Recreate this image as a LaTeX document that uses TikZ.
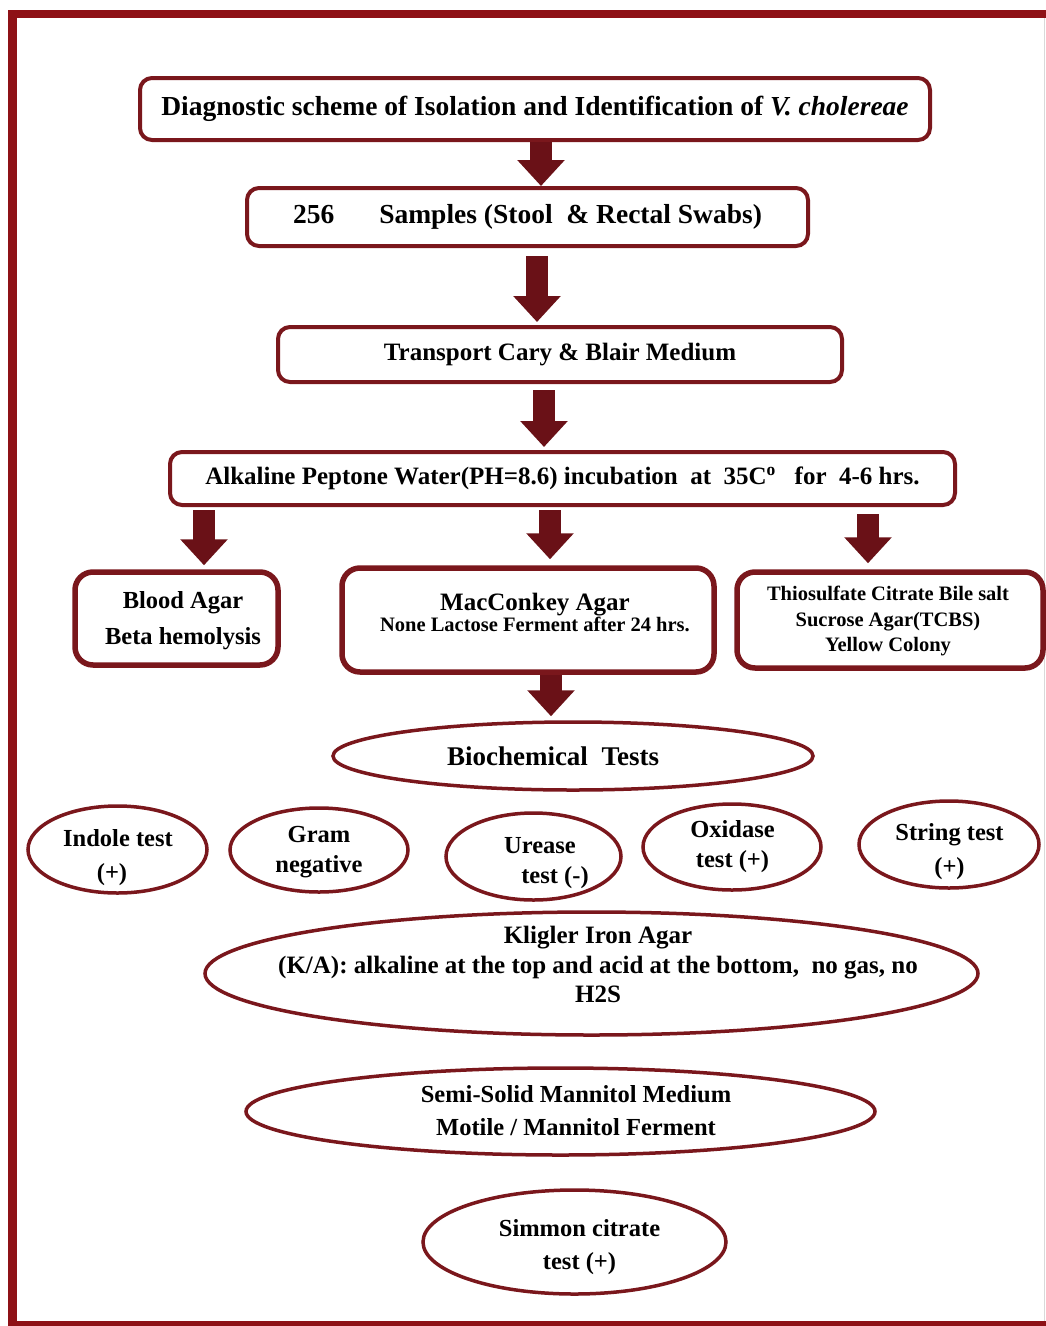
\documentclass[tikz,border=0pt]{standalone}
\usepackage{fontspec}
\setmainfont{Liberation Serif}
\usetikzlibrary{shapes.geometric,arrows.meta}
\definecolor{framered}{HTML}{8E1116}
\definecolor{bord}{HTML}{7A171C}
\definecolor{arr}{HTML}{6A1117}
\newcommand\fsz[2]{\fontsize{#1pt}{#2pt}\selectfont}
\begin{document}
\begin{tikzpicture}[x=1pt,y=-1pt,
  box/.style={draw=bord, line width=4pt, rounded corners=12pt, fill=white, inner sep=0pt, align=center},
  bigbox/.style={box, line width=5.5pt, rounded corners=18pt},
  ebox/.style={draw=bord, line width=3.5pt, ellipse, inner sep=0pt, fill=white},
  txt/.style={align=center, inner sep=0pt},
  barrow/.style={draw=arr, line width=22pt, -{Triangle[width=46pt,length=26pt]}},
]
\useasboundingbox (0,0) rectangle (1046,1326);
% frame
\fill[white] (0,0) rectangle (1046,1326);
\fill[framered] (8,10) rectangle (1046,18);
\fill[framered] (8,10) rectangle (17,1326);
\fill[framered] (8,1321) rectangle (1046,1326);
\draw[black!15, line width=1.5pt] (1044.5,18) -- (1044.5,1321);

% boxes
\node[box, minimum width=790, minimum height=62, font=\bfseries\fsz{27.5}{30}] (title) at (535,109)
  {Diagnostic scheme of Isolation and Identification of \textit{V. cholereae}};
\node[box, minimum width=561, minimum height=58, font=\bfseries\fsz{27.5}{32}] (samp) at (527.5,217)
  {256\hspace{45pt}Samples (Stool\ \ \& Rectal Swabs)};
\node[box, minimum width=564, minimum height=55, font=\bfseries\fsz{25}{30}] (trans) at (560,354.5)
  {Transport Cary \& Blair Medium};
\node[box, minimum width=785, minimum height=53, font=\bfseries\fsz{25}{30}] (apw) at (562.5,478.5)
  {Alkaline Peptone Water(PH=8.6) incubation\ \ at\ \ 35C\textsuperscript{o}\ \ \ for\ \ 4-6 hrs.};

\node[bigbox, minimum width=203, minimum height=93] (blood) at (176.5,618.5) {};
\node[txt, font=\bfseries\fsz{24.5}{36}] (bloodt) at (183,621) {Blood Agar\\Beta hemolysis};
\node[bigbox, minimum width=372, minimum height=104] (mac) at (528,620) {};
\node[txt, font=\bfseries] (mact) at (535,612) {\fsz{25}{27}MacConkey Agar\\\fsz{20.5}{30}None Lactose Ferment after 24 hrs.};
\node[bigbox, minimum width=306, minimum height=96] (tcbs) at (890,620) {};
\node[txt, font=\bfseries\fsz{20.5}{25.5}] (tcbst) at (888,621) {Thiosulfate Citrate Bile salt\\Sucrose Agar(TCBS)\\Yellow Colony};

% ellipses
\node[ebox, minimum width=480, minimum height=68] (bio) at (573,756) {};
\node[txt, font=\bfseries\fsz{27}{30}] (biot) at (553,756) {Biochemical\ \ Tests};

\node[ebox, minimum width=179, minimum height=87] (indole) at (117.5,849.5) {};
\node[txt, font=\bfseries\fsz{24.5}{34}] (indolet) at (118,858) {Indole test\\\hspace*{-12pt}(+)};
\node[ebox, minimum width=178, minimum height=84] (gram) at (319,850) {};
\node[txt, font=\bfseries\fsz{24.5}{30}] (gramt) at (319,852) {Gram\\negative};
\node[ebox, minimum width=175, minimum height=87] (urease) at (533.5,856.5) {};
\node[txt, font=\bfseries\fsz{24.5}{30}] (ureaset) at (547.5,863) {Urease\hspace*{15pt}\\\hspace*{15pt}test (-)};
\node[ebox, minimum width=178, minimum height=86] (oxid) at (732,847) {};
\node[txt, font=\bfseries\fsz{24.5}{30}] (oxidt) at (732.5,847) {Oxidase\\test (+)};
\node[ebox, minimum width=180, minimum height=87] (string) at (949,844.5) {};
\node[txt, font=\bfseries\fsz{24.5}{34}] (stringt) at (949.5,852) {String test\\(+)};

\node[ebox, minimum width=773, minimum height=123] (kia) at (591.5,973.5) {};
\node[txt, font=\bfseries\fsz{25}{29.5}] (kiat) at (598,964.5) {Kligler Iron Agar\\(K/A): alkaline at the top and acid at the bottom,\ \ no gas, no\\H2S};
\node[ebox, minimum width=629, minimum height=87] (ssm) at (560.5,1111.5) {};
\node[txt, font=\bfseries\fsz{24.5}{33}] (ssmt) at (576,1110.5) {Semi-Solid Mannitol Medium\\Motile / Mannitol Ferment};
\node[ebox, minimum width=303, minimum height=104] (sim) at (574.5,1242) {};
\node[txt, font=\bfseries\fsz{24.5}{33}] (simt) at (579.5,1247.5) {Simmon citrate\\test (+)};

% arrows
\draw[barrow] (title.south -| 541,0) -- (samp.north -| 541,0);
\draw[barrow, shorten <=8pt, shorten >=3pt] (samp.south -| 537,0) -- (trans.north -| 537,0);
\draw[barrow, shorten <=6pt, shorten >=3pt] (trans.south -| 544,0) -- (apw.north -| 544,0);
\draw[barrow, shorten <=3pt, shorten >=4pt] (apw.south -| 204,0) -- (blood.north -| 204,0);
\draw[barrow, shorten <=3pt, shorten >=6pt] (apw.south -| 550,0) -- (mac.north -| 550,0);
\draw[barrow, shorten <=7pt, shorten >=6pt] (apw.south -| 868,0) -- (tcbs.north -| 868,0);
\draw[barrow, shorten >=4pt] (mac.south -| 551,0) -- (bio.north -| 551,0);
\end{tikzpicture}
\end{document}
